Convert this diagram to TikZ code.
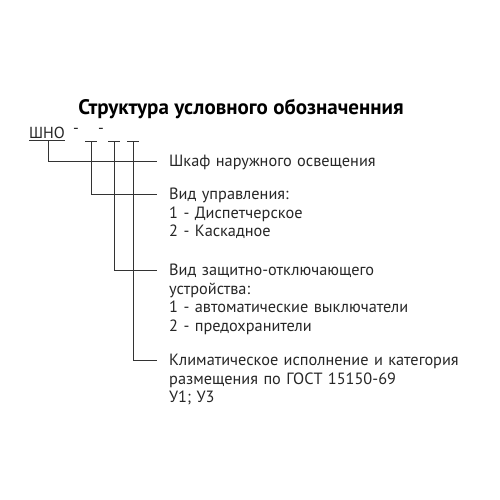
\documentclass[tikz,border=0pt]{standalone}
\usepackage{fontspec}
\setmainfont{PT Sans}
\usetikzlibrary{positioning}
\tikzset{
  desc/.style={anchor=base west,inner sep=0pt,text width=330pt,align=left,
    font=\fontsize{16.3}{18.6}\selectfont,text=black!85},
  code/.style={inner sep=0pt,font=\fontsize{16}{18}\selectfont,text=black!85},
  lead/.style={draw=black!80,line width=0.9pt}
}
\begin{document}
\begin{tikzpicture}[x=1pt,y=-1pt,line cap=butt,line join=miter]
\useasboundingbox (0,0) rectangle (500,500);
\node[anchor=base,inner sep=0pt,font=\fontsize{21}{24}\selectfont\bfseries] (title) at (241,114) {Структура условного обозначенния};
\node[code,anchor=base west] (sho) at (29,138) {ШНО};
\node[code] (d1) at (76,131) {-};
\node[code] (d2) at (101,131) {-};
\node[desc] (cab) at (169,166.5) {Шкаф наружного освещения};
\node[desc] (ctrl) at (169,199.5) {Вид управления:\\1 - Диспетчерское\\2 - Каскадное};
\node[desc] (prot) at (169,275.5) {Вид защитно-отключающего\\устройства:\\1 - автоматические выключатели\\2 - предохранители};
\node[desc] (clim) at (169,365.5) {Климатическое исполнение и категория\\размещения по ГОСТ 15150-69\\У1; У3};
\path (sho.base west) ++(0,2.5) coordinate (u1) (sho.base east) ++(0,2.5) coordinate (u2)
  (48,140.5) coordinate (a0) (48,161) coordinate (a1) (157,161) coordinate (a2)
  (91,141) coordinate (t1) (85,141) coordinate (t1l) (97,141) coordinate (t1r) (91,194) coordinate (b1) (157,194) coordinate (b2)
  (114,141) coordinate (t2) (108,141) coordinate (t2l) (120,141) coordinate (t2r) (114,270) coordinate (c1) (157,270) coordinate (c2)
  (133,141) coordinate (t3) (127,141) coordinate (t3l) (139,141) coordinate (t3r) (133,360.5) coordinate (e1) (157,360.5) coordinate (e2);
\draw[lead] (u1)--(u2) (a0)--(a1)--(a2);
\draw[lead] (t1l)--(t1r) (t1)--(b1)--(b2);
\draw[lead] (t2l)--(t2r) (t2)--(c1)--(c2);
\draw[lead] (t3l)--(t3r) (t3)--(e1)--(e2);
\end{tikzpicture}
\end{document}
